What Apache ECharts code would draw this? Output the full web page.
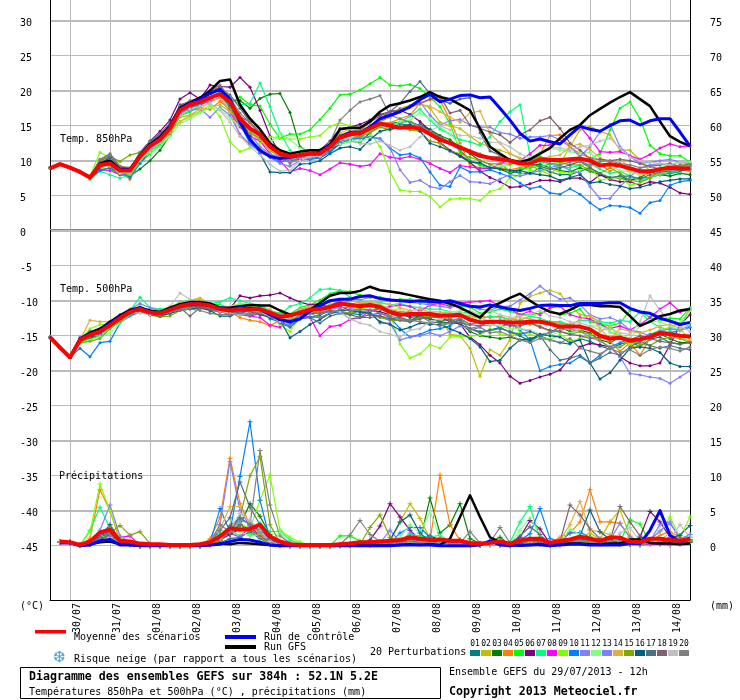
<!DOCTYPE html>
<html><head><meta charset="utf-8">
<style>html,body{margin:0;padding:0;background:#fff}#c{width:740px;height:700px}</style>
<script src="https://cdn.jsdelivr.net/npm/echarts@6/dist/echarts.min.js"></script>
</head><body><div id="c"></div>
<script>
const dayLabels=['30/07','31/07','01/08','02/08','03/08','04/08','05/08','06/08','07/08','08/08','09/08','10/08','11/08','12/08','13/08','14/08'];
const leftTicks=[30,25,20,15,10,5,0,-5,-10,-15,-20,-25,-30,-35,-40,-45];
const leftMajor=[30,20,10,0,-10,-20,-30,-40];
const rightTicks=[75,70,65,60,55,50,45,40,35,30,25,20,15,10,5,0];
const memberColors=['#008080','#c0c000','#008000','#ff8000','#00ff00','#800080','#00ff80','#ff00ff','#80ff00','#0080ff','#8080ff','#80ff80','#8080ff','#e0b040','#80a800','#006080','#507080','#806070','#c0c0c0','#808080'];
const memberIds=['01','02','03','04','05','06','07','08','09','10','11','12','13','14','15','16','17','18','19','20'];

// Temp 850 hPa
const meanA=[8.9,9.5,9,8.4,7.6,9.4,9.6,8.6,8.6,10.6,12.1,13,14.6, 17.2,18,18.4,19,19.5,18.4,16,14.6,13.7,12,11,10.6,10.8, 11,11,12,13.3,13.8,13.9,14.6,15.3,15,14.7,14.8,14.6,13.8, 13,12.5,11.9,11.3,10.7,10.4,10.2,10,9.6,9.6,10.2,10.1,10.1, 10.2,10.3,10,9.3,9.5,9.3,8.9,8.5,8.5,8.8,9,8.9,8.9];
const gfsA=[8.9,9.5,9,8.4,7.6,9.6,10,8.8,8.8,10.8,12.4,13.4,15, 17.6,18.3,19,20,21.4,21.6,18,16,14.5,12.5,11.5,11,11.3, 11.5,11.5,12.3,14.5,14.7,14.7,15.6,17,17.9,18.2,18.6,19.1,19.8, 19.1,18.8,18,17.2,14.6,12,11,10.1,9.8,10.2,11,11.8,13.2, 14.4,15.1,16.5,17.4,18.3,19.1,19.8,18.8,17.8,15.6,13.5,12.7,12.1];
const ctrlA=[8.9,9.5,9,8.4,7.6,9.3,9.7,8.7,8.7,10.7,12.2,13.2,14.8, 17.4,18.2,18.8,19.6,20.2,18.8,15.5,13,11.5,10.6,10.3,10.5,10.8, 11,11.2,12.2,13.4,14,14,14.8,16,16.5,17,17.7,18.7,19.5, 18.4,18.8,19.3,19.4,19,19.1,17.5,15.8,13.9,12.8,13.1,12.7,12.4, 13.7,14.9,14.5,14.2,15,15.7,15.8,15.1,15.7,16,16,14.1,12.1];
const a01=[9,9.5,9,8.4,7.7,9.5,10,8.8,8.6,10.4,12,13.2,14.8, 17.5,18,18.6,19.6,20,17.8,15.5,14,13,11.5,10.5,10,10.2, 10.2,10.6,11.5,12.5,13,13.4,14.5,15.2,15,15.3,15,15.2,14.5, 13.5,12.5,11.5,10,9.5,9,9,8.6,8.2,8.2,9,8.4,8, 8,8.5,9,8,7.5,7.8,7.3,7.5,7.6,8,8.2,8.4,9.5];
const a02=[9,9.5,9,8.4,7.6,9.2,9.8,8.4,8.5,10.4,11.7,12.8,14.6, 16.2,16.5,17,17.6,18,17,15.5,14.2,13,11.5,10.4,10.2,10.8, 11,11.4,12.6,13.8,14,13.6,14.6,16,16.4,17.5,17.9,18.2,17.5, 15.5,15,14.6,13.5,12.5,12,11.5,11,10.4,9.4,8.6,8,9.5, 12,14.4,14.9,14.2,13.7,11.5,11.5,10.1,8.5,8,8.8,9.5,9.5];
const a03=[8.9,9.5,9,8.4,7.5,8.6,9,8,7.8,8.8,10,11.5,13.6, 16.6,17.6,18.2,19,19.6,18.5,18.6,17.5,18.9,19.5,19.6,16.9,12, 11.2,11,11.5,12.4,12.8,12.6,14,15,15.3,15.5,15.6,15,14.4, 13.6,13,11.9,11,10,9.5,8.8,8.2,8.6,9.3,9.5,9,8.6, 8.4,9,8.5,8,7.6,7.5,7.2,7.6,8.4,8,7.8,8.2,8];
const a04=[9,9.5,9,8.4,7.6,10,10,8.4,7.3,10,12,13,14.6, 16.8,17.4,17.6,17.3,18.5,17.3,13.5,12.5,11.6,10.8,10.2,9.8,10, 10.4,10.8,12,13.5,14,14.2,15,15.5,15.4,16,16.5,18.2,18.7, 18.7,15.8,12.5,9.4,9,8.8,9,8.7,9,9.3,11,13.6,13.7, 12,11,10.4,9.5,8.5,9.3,8.5,8,8.4,8.6,9.6,8.8,8.5];
const a05=[9,9.5,9,8.4,7.7,9,8.8,8,8,9.6,11,12.2,14, 16.4,17,17.8,18.8,19.5,18.3,19.1,18,17.8,15.2,13.2,13.8,13.8, 14.4,15.9,17.5,19.4,19.5,20.1,21,21.9,20.8,20.7,20.9,20.3,19.1, 17.7,15.3,11.3,10,9.4,8.8,9.6,8.5,8.8,9,9.2,9.5,9.8, 10,10,10.3,11,14.4,17.5,18.4,16,12.2,11,10.7,10.7,9.8];
const a06=[9,9.5,9,8.5,7.7,9.6,10.3,9.2,8.8,11.2,12.8,14.2,15.8, 18.8,19.7,18.8,20.8,20.6,20.5,21.9,20.5,17.2,13.5,11,10.4,11, 11.4,11.5,12.8,14.6,14.8,15.2,15.8,16.6,17,17.2,16.6,15.6,14.3, 12.6,11.5,10.8,9.8,8.5,7.6,7,6.2,6.3,6.7,7.2,7.2,7, 7.5,7.5,6.9,8,7.3,7,7,6.5,7,6.8,6.2,5.4,5.2];
const a07=[9,9.5,9,8.3,7.3,8.5,8,7.5,8,9.8,11.3,12.4,14.4, 16.5,17.2,18,19,19.8,19,18,18.2,21.1,17.7,14,11.5,10.6, 10.8,11,11.8,12.8,13,13.6,14.2,15,14.6,15.5,16.4,17.4,15.8, 14.5,13.8,13,12.7,12.2,13.4,15.6,17,18,10.8,9.8,9.6,9,9, 9.3,9.6,8.8,8.2,8.5,7.8,7.2,7.6,8,8.4,8.4,9.4];
const a08=[9,9.5,9,8.4,7.6,8.7,8.6,8,8.4,10.2,11.8,13,14.4, 17,17.8,18,18.5,19,17,14.8,13.5,12.8,11,10,8.4,8.9, 8.6,8,8.8,9.7,9.5,9.2,9.4,11,10.5,10.3,10.6,10.2,9.6, 8.9,8.3,9.3,9.1,8.9,8.9,9.6,10.1,10,11,12.2,12.2,13.2, 14.4,14.9,13.2,11.3,11.2,11.3,10.7,10.2,10.9,11.8,12.4,12,12.1];
const a09=[9,9.5,9,8.5,7.8,11.2,10.4,9,8.2,9.8,11.5,12.6,14, 15.6,16.2,17,18,16.3,12.7,11.3,11.8,12.5,13.4,13.2,13.1,13.1, 13.4,13.6,14.9,15.4,15,14.5,14,12,8.4,5.8,5.6,5.6,4.9, 3.4,4.5,4.6,4.6,4.3,5.6,6,7.5,8,8.6,8.4,8.9,8.4, 8.2,8.6,9.2,7.2,7.5,7.6,6.5,6.8,7.5,8.5,8.6,9,9.8];
const a10=[9,9.5,9,8.3,7.5,8.6,9,8.4,7.6,9.6,11.4,12.8,14.2, 16.8,17.5,18,19,19.5,17.6,15.2,12.5,11.2,10.5,9.8,10.2,10.6, 10.2,10.4,11.2,12.4,13,13.2,13.4,13.1,11.8,10.8,11,10.4,8.4, 6.5,6.3,9.1,8.4,8.4,8.7,8.2,7.7,6.8,6,6.3,5.4,5.2, 6,5.2,4,3,3.6,3.5,3.3,2.5,4,4.3,6.5,7,7.2];
const a11=[9,9.5,9,8.4,7.6,9.2,9.4,8.3,8.2,10.2,11.8,12.8,14.2, 16.8,17.2,17.4,16.2,17.6,16.5,13.8,12.3,11.3,10.5,9.6,9.2,10, 10.4,10.8,11.6,12.8,13.2,13.4,13.4,13.2,11.8,8.7,6.9,7.2,6.3, 6,7,7.9,7,6.9,6.7,7.4,8,7.8,8.2,8.6,9,9.4, 8.6,8.2,6.3,4.6,4.6,6.3,7.7,8.9,9.4,9.6,9.2,9,8.8];
const a12=[9,9.5,9,8.4,7.6,9.8,9.4,8.2,8.4,10.2,11.2,12,13.5, 15.3,16,16.8,17.6,17.4,16,15,14.2,13.2,12.5,14,13,11.8, 11.4,11.6,12,12.4,12.8,12.8,13.2,14,14.8,15.6,15.8,16.8,16, 14.8,13.8,12.2,11.2,10.6,9.4,9.2,9.4,9.6,10.4,11.2,11.8,11.5, 11.3,11,11.2,9.8,9.2,8.6,8.4,8,8.6,9,9.5,9.8,9.7];
const a13=[9,9.5,9,8.4,7.6,9.5,10.2,8.8,8.7,10.8,12.5,13.8,15.2, 17.7,18.4,18.8,18.4,20,18.2,15.8,13.8,12,11,10.4,10,10.4, 10.8,11,12.2,13.2,13.8,14,14.6,15.6,16.2,17,17.8,18.4,16.5, 15.1,15.7,15.9,15.1,14.8,14.8,14,13.8,13.2,13.4,13.4,13.6,13, 12,10.6,12,14.1,15.2,12,10.6,9.6,9.8,10,10.2,9.8,9.6];
const a14=[9,9.5,9,8.4,7.6,9.4,9.2,8.5,8.2,10.3,11.6,12.6,14, 15.6,16.5,17.4,18.4,19,17,15.5,14,13,11.6,10.8,10.3,10.8, 11.4,11.6,12.4,14,14.5,14.4,15,15.8,16.2,17.2,17.6,18,17.8, 17,16.2,15.5,16.8,17.1,13.9,12.5,11,10.3,9.8,10.2,10.6,10.8, 12,12.4,11.6,10.4,9.8,10.2,9,8.4,7.8,8.2,8.8,9,9.2];
const a15=[9,9.5,9,8.5,7.8,10,10.6,9.9,10.8,11.2,12.6,13.2,14.3, 17,17.8,18.3,19,19.4,17.5,15,14,13.2,12.2,11.5,10.8,11, 11.4,11.2,12.2,13,13.6,13.4,14,14.8,14.4,14.8,14.4,14.2,12.8, 12.5,11.4,11,10.5,10,9.5,9.6,9.5,9.9,10,10.6,10.2,9.8, 9.4,9.4,8.6,8.2,9,8.2,7.2,7,7.5,8.6,9.5,9.2,9.1];
const a16=[9,9.5,9,8.4,7.7,9.6,10.5,9,8.7,10.8,12.6,13.6,14.9, 18,18.4,18.6,19.8,20.4,18.3,16,13.5,11,8.4,8.3,8.3,9.5, 9.6,10,11,11.8,12,11.6,13,14.2,14.5,14.8,15.2,14.2,12.5, 12,11.4,10.6,9.8,9.7,9,8.8,8.6,8.6,8.2,8,7.8,7.2, 7.6,8,6.8,7,6.6,6.4,6,6.2,6.6,7,7.2,7.4,7.4];
const a17=[9,9.5,9,8.4,7.6,10.2,11,9.2,8.8,11,12.8,13.8,15.4, 17.6,18.2,19,19.6,20.4,19.4,17.5,15.5,13.8,12.2,11,10.4,10.6, 11,10.4,11.6,12.8,13.6,13.8,15,16,17,18.2,19.9,21.3,19.6, 18.6,18.2,18.8,19,14,11.4,10.8,10,9.8,9.6,9.2,8.8,9, 9.4,9.9,9,8.2,7.6,7.8,7.8,7.4,8,8.4,8.5,8.6,8.8];
const a18=[9,9.5,9,8.4,7.7,10,10.6,9,8.6,10.9,12.5,13.5,15, 17.8,18.3,18.8,20,20.5,18.5,16.3,15.5,14,12.2,11,10.4,10.8, 11,11.3,12.4,13.6,14.2,14.4,15.5,16.4,17,17.3,17.7,18.2,18.8, 19.2,16.8,17.2,15.1,14.6,14.1,13.7,12.6,13.7,14.4,15.7,16.2,14.6, 12.5,11.5,10.3,10.2,10,10.2,10,9.6,9.2,9.4,9.6,9.2,9.6];
const a19=[9,9.5,9,8.4,7.6,9.3,9.6,8.5,8.4,10.3,11.6,12.6,14.4, 16.5,17.4,17.8,18.2,17.2,15.5,13.5,12,10.8,9.5,8.5,8.6,10, 10.6,10.6,11.8,13,13.2,12.4,12.4,12.8,12.2,11.5,12,13.4,14.2, 15,14.4,13.6,13.6,13.2,12.6,12.6,12,11,10.4,11,12,11.8, 11.5,12,12.2,12.8,13.2,11.8,10.5,10,9.8,9.6,9.4,9.8,9.8];
const a20=[9,9.5,9,8.4,7.7,10.2,10.8,9.2,9,11,12.6,13.6,15.2, 17.8,18.6,19,20,20.8,19,16.8,15.4,13.8,12.4,10.8,9.6,10.6, 11,11.5,12.6,15.8,17.2,18.4,18.8,19.3,16.5,16,15.5,15,14.2, 13.4,12.6,12,11.5,11,10.5,10.6,10.2,9.7,10.1,10,9.6,9.4, 9.8,10,9.3,9.9,10,9.6,9.4,9,9.2,8.8,8.6,9.4,9.2];

// Temp 500 hPa
const meanB=[-15.2,-16.7,-18.1,-15.6,-14.9,-14.4,-13.5,-12.5,-11.6,-11.2,-11.7,-11.8,-11.3, -10.8,-10.5,-10.5,-10.7,-11.2,-11.4,-11.2,-11.3,-11.2,-11.7,-12.3,-12.1,-11.7, -11.3,-11.2,-10.9,-10.4,-10.6,-10.8,-10.6,-10.9,-11.6,-12,-11.9,-11.9,-11.9, -12.1,-12.1,-12,-12.7,-13.1,-13,-13,-13.1,-13.1,-13,-13,-13.3,-13.7, -13.7,-13.7,-14.1,-15,-15.4,-15.3,-15.7,-15.5,-15.2,-14.6,-14.8,-15,-15.1];
const gfsB=[-15.2,-16.7,-18.1,-15.4,-14.6,-14,-13,-12.1,-11.3,-11,-11.4,-11.6,-11,-10.5,-10.2,-10.2,-10.4,-11,-11,-10.8,-10.6,-10.7,-10.7,-11.4,-12,-11.8, -11.3,-10.3,-9.3,-8.9,-8.9,-8.6,-8,-8.5,-8.7,-8.9,-9.2,-9.5,-9.8, -10,-10.4,-11,-11.7,-12.4,-11,-10.3,-9.6,-9,-10,-10.9,-11.6,-11.9, -11.3,-10.6,-10.6,-10.8,-10.8,-10.9,-12.2,-13.6,-13,-12.2,-11.9,-11.4,-11.2];
const ctrlB=[-15.2,-16.7,-18.1,-15.5,-14.8,-14.3,-13.2,-12.3,-11.5,-11,-11.6,-11.8,-11.2,-10.7,-10.4,-10.4,-10.7,-11,-11.2,-11,-11.1,-11.2,-12,-12.7,-13,-12.6, -11.5,-10.7,-10,-9.8,-9.8,-9.4,-9.3,-9.7,-9.9,-10,-10.1,-10,-10.1, -10.2,-10,-10.4,-10.8,-10.9,-10.6,-10.9,-11.2,-11.4,-11.1,-10.7,-10.6,-10.7, -10.7,-10.4,-10.4,-10.4,-10.3,-10.3,-11.1,-11.6,-11.8,-12.5,-12.9,-13.4,-13.1];
const b01=[-15.2,-16.7,-18,-15.8,-15.2,-14.8,-13.6,-12.3,-11.5,-11.2,-11.6,-11.8,-11.4,-10.9,-10.8,-10.9,-11,-11.5,-11.9,-11.6,-11.4,-11.8,-11.8,-12.8,-13,-12.2, -12.4,-12,-11.5,-11.6,-11.8,-12,-11.4,-11.2,-11.8,-12.4,-12.8,-12.2,-12.6, -13,-12.5,-13.4,-14,-14.4,-14.2,-13.8,-14.5,-15,-15.8,-15,-15.6,-16, -16.2,-15.4,-15.8,-16.5,-16.9,-16.2,-15.8,-16.6,-15.5,-15.2,-16,-16.2,-15.8];
const b02=[-15.2,-16.7,-18,-15.4,-15,-14.6,-13.4,-12.2,-11.5,-11,-11.8,-12.2,-11.6,-10.8,-10,-9.6,-10.4,-11.2,-11.5,-11.4,-10.8,-11.4,-12.4,-12.6,-12.8,-11.7, -11.2,-10.6,-10.8,-10.1,-10.8,-10.4,-10.8,-11.2,-11.5,-12,-12.2,-11.8,-12, -12.4,-14.8,-15,-16.8,-20.8,-17,-17.8,-15.6,-10.4,-9.4,-8.9,-8.5,-9, -10.8,-12,-12.2,-13,-14.5,-15,-16.6,-16.5,-15,-14.2,-14.6,-15.2,-15.8];
const b03=[-15.2,-16.7,-18.1,-15.9,-15.4,-14.8,-13.8,-12.8,-12,-11.5,-12,-12.2,-11.6,-11,-10.8,-10.8,-10.9,-11.4,-11.5,-11.2,-11.4,-11.2,-11.6,-12.4,-12.6,-12, -11.6,-11,-10.6,-10.2,-10.4,-10.6,-10.8,-11.2,-11.4,-11.8,-12.4,-12.2,-12.6, -13,-13.2,-13.2,-14.4,-15,-15.2,-15.4,-15.2,-15.6,-15.4,-15,-14.5,-13.8, -14.4,-14.2,-14.6,-15.6,-16,-15.2,-15.4,-15.8,-15,-14.8,-15.4,-16,-16];
const b04=[-15.2,-16.7,-18,-15.4,-14.4,-14.6,-13.4,-12.6,-11.6,-11.2,-11.8,-11.6,-11.2,-10.4,-10.2,-10.2,-10.8,-11.3,-11.6,-12.4,-12.8,-13,-13.6,-12.8,-12.4,-12, -11.6,-11.4,-11.2,-10.4,-10,-10.3,-10.6,-10.5,-11.2,-11.6,-11.5,-12,-11.9, -12.3,-12.4,-12.2,-12.8,-12.2,-12.4,-12.2,-12.8,-13.4,-13.4,-12.8,-13,-13.2, -13.5,-13.6,-14,-15.2,-15.8,-17.2,-16,-17.8,-15.4,-14.8,-14.4,-15,-15.4];
const b05=[-15.2,-16.7,-18.1,-15.8,-15.5,-15,-13.6,-12.4,-11.4,-11,-11.4,-11.8,-11,-10.4,-10.2,-10.2,-10.4,-10.6,-11,-10.4,-10.6,-10.8,-11.4,-11.8,-11.9,-11, -10.6,-9.9,-9,-8.6,-8.7,-9.2,-9.5,-9.5,-10,-9.8,-9.8,-10.2,-10.4, -10.2,-10.6,-10.8,-10.9,-11.8,-11.6,-11.2,-11.5,-12,-12,-11.8,-11.4,-12, -11.8,-11.2,-13,-13.3,-13.6,-13.2,-11.4,-11.5,-12.4,-12.8,-12.5,-12.6,-11];
const b06=[-15.2,-16.7,-18.1,-15.6,-15.2,-14.8,-13.7,-12.6,-11.6,-11.2,-12,-12,-11.2,-10.6,-10,-10.2,-10.6,-11,-11.1,-9.3,-9.6,-9.3,-9.2,-8.9,-9.6,-10.2, -10.6,-10.4,-11,-10.8,-11.4,-11.6,-11.4,-11.6,-12,-12,-12.2,-12,-11.8, -12.4,-13,-13.3,-15.2,-16.3,-17.8,-18.9,-20.8,-21.8,-21.4,-20.9,-20.5,-19.9, -18.2,-16.6,-16.1,-16.3,-16.6,-18,-18.9,-19.3,-19.3,-18.9,-16.3,-13.5,-12];
const b07=[-15.2,-16.7,-18,-15.7,-15,-15,-13.8,-12.5,-11.4,-9.5,-11,-11.2,-11,-10.2,-10,-10.4,-10.4,-10.2,-9.6,-10,-10.4,-10.6,-11.4,-12,-10.8,-10.4, -9.6,-8.4,-8.3,-8.5,-9.5,-10,-10.4,-10.2,-10.6,-10.4,-10.8,-11,-11.2, -11.2,-11.6,-11.6,-11.8,-12.6,-12.2,-12.4,-12.6,-12.8,-12.2,-12.5,-13,-13, -13.4,-12.8,-12.8,-13,-13.2,-12.8,-13,-11.6,-13,-13.8,-14.2,-14,-11];
const b08=[-15.2,-16.7,-18.1,-15.6,-15,-14.4,-13.4,-12.3,-11.4,-11,-11.6,-11.8,-11.2,-10.6,-10.2,-10.4,-10.6,-11,-11.2,-11.4,-12.2,-12.4,-13.5,-13.8,-12,-11.8, -12.4,-15,-13.7,-13.5,-12.7,-12.4,-11.5,-11.2,-10.8,-10.6,-10.8,-11.5,-10.6, -10.4,-10.8,-10.3,-10.2,-10.1,-10,-10.8,-11.2,-12,-11.5,-12,-11,-10.8, -12,-12.4,-12.6,-13.4,-14,-13.6,-14.2,-13.4,-12.4,-11.2,-10.3,-11.6,-11.3];
const b09=[-15.2,-16.7,-18,-15.8,-14,-13.4,-13.4,-12.4,-11.6,-10.6,-11.8,-11.8,-10.8,-10.4,-10,-10.2,-10.6,-10.8,-11.2,-11,-11,-11.4,-12,-13.4,-14.4,-12.4, -11.2,-11,-10.6,-10.5,-10.9,-11.2,-10.9,-11.1,-11.9,-16.2,-18.2,-17.6,-16.3, -16.8,-15.2,-15.1,-15.1,-14.9,-14,-14.8,-15,-14.5,-14.8,-15.2,-15.6,-14.8, -15.8,-15.4,-15,-14.4,-13.6,-15.4,-16.2,-15.8,-14.8,-14.2,-13.8,-13.2,-11.4];
const b10=[-15.2,-16.7,-18,-16.8,-18,-16,-15.8,-13.2,-12.2,-11.6,-11.8,-12,-11.8,-11.2,-10.6,-10.8,-11.3,-11.6,-11.8,-11.6,-12,-11.4,-12.6,-13,-13.6,-12.6, -12.3,-12.4,-11.8,-11.6,-12,-11.4,-12,-11.8,-12.4,-14,-15.2,-14.8,-14.2, -14,-13.6,-12.5,-13.4,-13,-13.2,-13.8,-13.2,-14.2,-15.6,-20,-19.4,-19.1, -18.9,-18,-18.9,-17.8,-16.6,-16,-15.4,-15.6,-14.8,-14.4,-14.6,-14.2,-13.8];
const b11=[-15.2,-16.7,-18.1,-15.2,-14.6,-14.8,-13.6,-12.8,-12,-11.3,-12,-12,-11.6,-11.2,-11,-10.8,-11,-11.6,-11.8,-11.6,-12,-11.8,-12.2,-12.6,-13.4,-12.4, -11.6,-11.8,-11.2,-11,-11,-11.5,-11.6,-13.2,-13.2,-15.6,-15.2,-15,-14.6, -15,-14.4,-13.6,-14,-13.6,-13.5,-12.8,-13.4,-14,-14.4,-14.8,-14.6,-14.2, -14,-14.4,-15.2,-15.8,-16.6,-18,-20.4,-20.6,-20.9,-21.1,-21.8,-20.9,-20];
const b12=[-15.2,-16.7,-18.1,-16.2,-15.6,-15.2,-14.6,-13.2,-12,-11,-11.4,-11.6,-11.2,-10.6,-10.4,-10.4,-10.4,-10.8,-10.8,-10.4,-10.5,-11,-11.8,-12.2,-12.8,-11.8, -11,-11,-10.8,-10.4,-10.4,-10.8,-10.6,-10.6,-11.2,-11.2,-11.8,-11.6,-11.8, -12,-11.6,-11.5,-12.2,-13,-13.4,-13.6,-14,-14,-14.2,-14.8,-15,-14.4, -14.6,-14.2,-13.6,-13.6,-14.4,-14.8,-15.4,-13.6,-13,-13,-13.6,-14.4,-13.2];
const b13=[-15.2,-16.7,-18,-15.2,-14.8,-14.4,-13.2,-12,-11.2,-10.4,-11,-11.4,-11.2,-10.6,-10.4,-10.6,-10.6,-11,-11.4,-11.2,-11.2,-11.2,-11.4,-12,-12.2,-11.4, -10.9,-10.8,-10.8,-9.8,-9.6,-9.9,-9.5,-9.6,-9.8,-10,-10.2,-10.4,-10.6, -10.8,-11,-10.6,-10.8,-11.2,-11.4,-10.8,-10.8,-9.9,-9,-7.9,-9,-9.8, -9.6,-10.6,-12,-12.6,-12.4,-13,-14.2,-14.5,-15,-14.4,-14,-14.2,-13.6];
const b14=[-15.2,-16.7,-18,-15.6,-12.8,-13,-13,-12.2,-11.2,-11,-11.6,-11.8,-11,-10.4,-10,-9.8,-10.6,-11,-11.2,-11,-11,-11.4,-11.2,-12.4,-12,-11.2, -10.8,-10.6,-10.2,-9.9,-10,-10.2,-10.2,-10.4,-10.5,-11,-11.4,-11.2,-11.6, -11.6,-11.8,-12.2,-12.2,-12.4,-13,-12.8,-12.6,-12.4,-12.6,-13,-13.2,-13.6, -13.8,-12.6,-12,-14,-15.5,-14,-14.4,-14.6,-14.2,-13.6,-13.4,-14,-15.6];
const b15=[-15.2,-16.7,-18.1,-16,-15.8,-15.4,-14,-13,-12,-11.5,-12,-12.3,-12.2,-11.4,-11,-11.1,-11.4,-11.6,-11.8,-11.4,-11.6,-11.4,-12,-12.4,-12.2,-11.9, -11.8,-11.6,-11.5,-11.5,-11.8,-11.4,-12,-12.4,-12.8,-12.8,-13,-12.4,-12.2, -12.3,-12.8,-12.6,-13.4,-13,-13,-13.1,-13.2,-12.9,-13.2,-13.6,-14.4,-14.4, -14.8,-14.4,-14.8,-15.6,-16.8,-16.6,-15.8,-16.2,-16.4,-15.6,-15.2,-15.4,-16];
const b16=[-15.2,-16.7,-18.1,-15.8,-15.2,-14.5,-13.2,-12.4,-11.8,-11.4,-12,-12.2,-11.8,-11.4,-11.2,-11,-11.4,-12.2,-12.2,-11.6,-11.6,-12,-12.4,-12.8,-15.3,-14.4, -13.4,-12.7,-11.8,-11.4,-11.4,-11.6,-11.8,-13,-13.4,-14.2,-13.8,-13.2,-13.4, -13.4,-14,-14.6,-15.4,-16.6,-18.7,-18.5,-16.8,-15.6,-15.6,-14.8,-15,-15.2, -16,-15.6,-18.9,-21.2,-20.3,-18.5,-16.8,-16.6,-16.8,-17.4,-18.9,-19.4,-19.4];
const b17=[-15.2,-16.7,-18,-15.4,-14.4,-14,-13,-12.2,-11.6,-11.2,-11.8,-12,-11.4,-11,-10.8,-10.8,-11.2,-11.4,-11.8,-11.4,-11.6,-11.8,-12,-13.2,-13.8,-12.6, -12.4,-13.2,-12.2,-11.8,-12,-12.4,-12,-12.2,-12.6,-12.4,-13,-12.2,-13, -13.2,-13.2,-12.8,-14,-14.6,-14.2,-14,-14.4,-14.8,-14.4,-15,-17,-18.5, -18.2,-17.8,-18.9,-18.2,-17.4,-17.8,-16.6,-15.8,-16.4,-16.8,-16.4,-16.8,-17];
const b18=[-15.2,-16.7,-18,-15.6,-15,-14.2,-13,-12,-11.5,-11.4,-12,-12.1,-11.6,-11,-12.2,-11,-11.1,-11.6,-11.8,-12,-12.2,-11.8,-12,-12.6,-13.2,-12, -11.8,-11.8,-11.4,-11.6,-12.6,-12.4,-12.4,-12.2,-12.6,-12.8,-13,-12.6,-12.4, -12.4,-12.8,-13.2,-13.4,-13.6,-13,-13.2,-13.6,-13.6,-13.2,-13.8,-14.2,-14.4, -14.8,-15,-15.4,-15.2,-15.6,-15.2,-15.6,-15,-15.4,-15.8,-16,-16.2,-16];
const b19=[-15.2,-16.7,-18,-15.6,-14.8,-14,-13,-12.4,-11.6,-11.8,-12,-11.6,-10.8,-8.9,-9.8,-10.4,-10.8,-11.5,-11.8,-12,-11.5,-11.6,-12.2,-13,-12.4,-11.6, -11.6,-11.2,-11,-11.6,-12.6,-13.2,-13.5,-14.4,-14.8,-15.2,-14.2,-14,-13, -12.6,-12.2,-11.4,-11.4,-12,-11.4,-12,-12.4,-12.2,-12,-11.4,-12.2,-12.4, -13,-13.2,-13.6,-14.2,-14,-14.6,-14.8,-13,-9.3,-11.4,-13,-13.6,-14.4];
const b20=[-15.2,-16.7,-18.1,-15.8,-15.2,-14.2,-13,-12.2,-11.4,-11.2,-11.6,-12,-11.6,-11.4,-11.2,-11.4,-11.8,-12,-12,-11.8,-12,-11.6,-12,-12.6,-12.8,-12.2, -11.8,-12.4,-11.8,-11.2,-11.4,-11.2,-11.3,-11.8,-12.2,-12.6,-12.8,-13,-13.2, -13.6,-13.2,-12.4,-14.2,-13.8,-14.6,-14.4,-15,-15.6,-16,-15.4,-15.6,-16, -15.4,-16.8,-17.2,-17.6,-16.8,-17.4,-17,-17.8,-17,-16.6,-16.8,-17.2,-16.6];

// Precipitations (mm)
const meanC=[null,.6,.5,.1,.6,1.9,2.3,.7,.6,.3,.2,.2,.1, .1,.1,.2,.5,1.3,2.5,2.3,2.4,3,1.3,.6,.2,.1, .1,.1,.1,.2,.3,.5,.5,.6,.7,.8,1.2,1,.8, .9,.7,.7,.4,.3,.4,.6,.3,.7,1,1,.4,.7,.9, 1.3,1,.7,1.2,1.1,.6,.5,1,1,.8,.7,1];
const gfsC=[null,.5,.5,.1,.2,.5,.6,.2,.1,0,0,0,0, 0,0,0,.1,.3,.2,.4,.3,.2,.1,0,0,0, 0,0,0,0,0,.1,.1,.1,.1,.1,.2,.1,.2, .1,1,4.1,7.2,4.1,1.2,.5,.2,0,.1,.1,0,.2,.3, .3,.2,.2,.3,.3,.9,.9,.4,.3,.3,.2,.3];
const ctrlC=[null,.4,.4,0,.1,.7,.9,.1,.1,0,0,0,0, 0,0,0,.1,.2,.6,.9,.8,.5,.1,0,0,0, 0,0,0,0,0,0,0,0,0,.1,.1,.1,.1, 0,0,0,0,.1,.7,.1,0,.1,.1,.2,0,.1,.2, .2,.1,.1,.1,.1,.3,.3,2.2,5,1.5,.5,1];
const c01=[null,.5,.5,.1,.3,1,1.5,.3,.2,0,0,0,0, 0,0,0,.1,.4,1,1.2,2,1,.3,.1,0,0, 0,0,0,0,.2,.2,.1,.3,.4,.3,.5,.4,.3, .6,.3,.4,.1,.1,.2,.3,0,.2,.8,1,.1,.3,.5, 1,.8,.4,.8,.5,.2,.2,.4,.6,.4,.6,.5];
const c02=[null,.5,.4,.1,.2,1.4,2,.4,.2,0,0,0,0, 0,0,0,.2,1.3,1.6,3,2.4,1.2,.4,.1,0,0, 0,0,0,.1,.2,.2,.2,.3,.5,3.4,6,3.9,1,.8,.5,.2,.2,.1,.1,.2,.1,.4,.6,.6,.2,.3,.7, 1,1.8,.9,3.4,5.1,1.4,.4,.6,.7,.6,.4,.8];
const c03=[null,.5,.5,.1,.4,1.2,2.5,.6,.3,0,0,0,0, 0,0,.1,.3,1,1.8,3,6,4.2,1.6,.5,.3,.2, 0,0,0,.1,.2,.3,.2,.4,.4,.7,1.1,.7,6.8,1.8,3,6,1,.3,.5,1.2,.1,.5,1,.8,.2,.4,.6, .8,1.2,.5,.8,.6,.4,.3,.6,.5,.4,.3,.5];
const c04=[null,.5,.5,.1,1,8,5,.6,.3,0,0,0,0, 0,0,0,1,4,12.5,6,3,1.4,.3,.1,0,0, 0,0,0,.1,.3,.4,.5,.6,.8,.6,1.3,.6,.7,10.1,3,.8,.4,.1,.3,.5,.2,.3,.6,.4,.3,1.2,1.8, 3.4,8,3.4,3.4,3.2,1.2,.5,.6,1.5,2,1.2,.8];
const c05=[null,.5,.4,0,.2,1.2,1.6,.3,.1,0,0,0,0, 0,0,0,.2,1,2.2,3.2,1.5,2.4,.9,.2,.1,0, 0,0,0,1.4,1.4,.7,.6,.4,.3,.4,.8,.3,.5,.6,.5,.9,.3,.2,.4,.3,.2,.8,.6,.3,.1,.3,.4, .6,1.2,.4,.7,.5,3.7,3.1,.4,.6,.5,.7,1.6];
const c06=[null,.5,.4,.1,.2,.8,1.8,.4,.2,0,0,0,0, 0,0,0,.4,.8,1.6,2.4,2.6,1.6,.4,.1,0,0, 0,0,0,.1,.1,.2,.8,2.8,6,4.1,2.2,.8,1.4,.8,.6,.4,.3,.1,.2,.1,.2,1.2,3.6,2.4,.3,.4,.5, .7,.6,.4,.7,.5,.3,1.2,4.9,3.4,1.2,.5,.9];
const c07=[null,.5,.5,.1,2.2,5.5,2.5,.6,.2,0,0,0,0, 0,0,.1,.5,1.6,2.2,1.4,2.6,3.2,2,2.1,.8,.3, .1,0,0,0,.1,.2,.2,.4,.5,.4,1.6,1.4,1.2,1.5,.6,.3,.2,.1,.2,.4,.5,3.4,5.6,1,.2,.3,.5, .7,.9,.5,.6,.4,.3,.4,.6,.5,.7,.6,.9];
const c08=[null,.5,.4,.1,.2,1,1.4,1.2,1.4,0,0,0,0, 0,0,0,.2,.8,1.8,1.2,2.8,2.2,.9,.2,0,0, 0,0,0,.1,.1,.2,.1,.3,.2,.2,.5,.3,.4,.7,.5,.8,.2,.1,.2,.1,.1,.3,.4,.2,.1,.1,.3, .3,.3,.2,.4,.2,.2,.1,.2,.2,.1,.2,.9];
const c09=[null,.5,.5,.1,2,8.8,5,1.2,.4,0,0,0,0, 0,0,0,.2,.8,2,3.2,2.4,6.5,10.1,2.2,1.2,.5, .1,0,0,0,.1,.2,.1,.2,.3,.2,.4,.3,.2,.4,.3,.2,.1,.1,.2,.2,.2,.6,1,.4,.2,.7,.6, .6,.7,.4,.8,.6,.5,.3,.9,2,4.1,1.2,4.1];
const c10=[null,.5,.4,.1,.2,1.2,1.8,.9,.4,0,0,0,0, 0,0,0,.4,5.3,2,9.9,17.7,6.5,.8,.2,0,0, 0,0,0,.1,.2,.2,.3,.5,.4,1.8,2.6,2.6,1.2,.5,.4,.5,.3,.2,.4,.1,.2,.8,1.7,5.3,1,.6,1.8, 1.9,1.2,.5,.8,.4,.2,.4,.7,.6,.8,.5,1.2];
const c11=[null,.6,.6,.1,.4,2.2,5.8,1.4,.5,0,0,0,0, 0,0,0,.6,3,12,5,2.8,1.8,.5,.1,0,0, 0,0,0,.1,.2,.3,.2,.4,2.2,.6,1.8,.8,.6,.8,.4,.3,.3,.1,.3,.2,.1,.5,1,.5,.2,.3,.6, .8,.5,.3,.5,.7,.4,.2,.9,2.1,3.2,1,1.6];
const c12=[null,.5,.4,.1,.4,1.4,1.2,.6,.2,0,0,0,0, 0,0,0,.3,1.8,2.6,2,1.4,1.6,.8,1.8,.4,.1, 0,0,0,.1,.1,.2,.2,.4,.8,1.2,3,1.8,4.9,1.2,.6,.4,.2,.1,.2,.3,.2,2.2,4,1.4,.3,.4,2.4, 1.6,1,.6,.5,.4,.3,.2,.4,.5,.3,.6,.7];
const c13=[null,.5,.5,.1,.3,1.5,2,.5,.3,0,0,0,0, 0,0,0,.3,1.2,2.2,3.6,3.2,1.8,.6,.1,0,0, 0,0,0,0,.1,.1,.2,.3,.5,.4,.9,.5,.4,.5,.3,.3,.2,.1,.1,.2,.1,.3,.4,.3,.1,.2,.4, .6,.5,.3,.8,3.2,1.2,.4,.7,3,3.4,.9,.8];
const c14=[null,.5,.4,.1,.4,1.8,2.8,.5,.2,0,0,0,0, 0,0,0,.5,2.4,5.6,5.6,3,1.6,.3,.1,0,0, 0,0,0,.1,.1,.2,.3,.2,.4,.3,.7,.5,.6,.5,.4,.2,.5,.1,.1,.2,.1,.4,.5,.4,.1,.8,3,6.3,2.2,2,1.6,1.2,.5,.3,.5,.8,1.8,.8,.6];
const c15=[null,.5,.4,.1,.3,.8,1.8,2.9,1.5,2,.3,0,0, 0,0,0,.2,.7,2.4,4,10,12.7,3,.4,.1,0, 0,0,0,.1,.1,.2,2.6,4.4,1.2,.3,.7,.4,.3,.5,.3,.2,.1,.1,.3,.2,.1,.3,.5,.3,.1,.2,.4, .5,.4,.3,.6,.4,.2,.1,.4,.5,.8,1.2,.7];
const c16=[null,.5,.5,.1,.4,1.2,3,.8,.3,0,0,0,0, 0,0,0,.5,1.5,2.8,4,3,2.2,1,.3,.1,0, 0,0,0,.1,.1,.2,.2,.4,.8,3.4,4.4,1.8,.6,.7,.5,.4,.2,.1,.3,.4,.2,.5,.9,.6,.2,.5,.6, 1.4,5.1,2,.9,1.3,.4,.3,.5,.4,1,1.5,2.9];
const c17=[null,.5,.4,.1,.4,1.1,2.2,.6,.3,0,0,0,0, 0,0,0,.4,2.2,4,9.1,5.5,3,1.1,.3,.1,0, 0,0,0,.1,.2,.3,.2,.3,.4,.5,1,.7,.8,1,.5,.4,.5,.1,.3,.2,.3,1.4,2.7,1.6,.2,.4,.7, .9,.8,.5,.7,.5,.3,.2,.4,.5,.4,.5,.6];
const c18=[null,.5,.4,.1,.3,.9,1.6,.4,.2,0,0,0,0, 0,0,0,.2,.7,2,3,2.2,1.4,.5,.1,0,0, 0,0,0,.1,.2,.3,.2,.3,.5,.4,.8,.4,.3,.5,.3,.4,.3,.1,.2,.4,.2,.3,.6,.5,.4,.6,5.8, 4.4,2.4,1,.7,5.6,3.4,1.4,.5,.6,.9,.7,.6];
const c19=[null,.5,.4,.1,.2,.7,1.2,.3,.2,0,0,0,0, 0,0,0,.3,1,2.4,4.6,3.6,2.2,.6,.2,0,0, 0,0,0,.1,.1,.2,.1,.3,.2,.3,.4,.3,.5,.4,.3,.2,.1,.1,.2,.1,.1,.3,.4,.2,.1,.1,.3, .3,.4,.3,.5,1.8,2.6,.6,.4,.7,.9,3,1.2];
const c20=[null,.5,.5,.1,.3,.9,1.4,.4,.2,0,0,0,0, 0,0,0,.3,3,2,4,3,13.6,5.8,1.4,.4,.1, 0,0,0,.2,1.5,3.6,1.6,.6,.5,.4,.6,.4,.5,.4,.3,.4,2,.4,.5,2.6,.4,.3,.6,.4,.2,.3,.6, .7,.5,.4,.5,.4,.3,.2,.4,.3,.5,.4,.6];

const membersA=[a01,a02,a03,a04,a05,a06,a07,a08,a09,a10,a11,a12,a13,a14,a15,a16,a17,a18,a19,a20];
const membersB=[b01,b02,b03,b04,b05,b06,b07,b08,b09,b10,b11,b12,b13,b14,b15,b16,b17,b18,b19,b20];
const membersC=[c01,c02,c03,c04,c05,c06,c07,c08,c09,c10,c11,c12,c13,c14,c15,c16,c17,c18,c19,c20];

const categories=[];
for(let i=0;i<65;i++){categories.push((i-2)%4===0&&i>=2?dayLabels[(i-2)/4]:'');}

const mono='"DejaVu Sans Mono"';
const lAxisMin=-52.76,lAxisMax=32.96;
const series=[];
const plus='path://M4 0H6V4H10V6H6V10H4V6H0V4H4Z';
function addMembers(list,axis,name,sym,size){
  list.forEach((d,k)=>series.push({name:name+memberIds[k],type:'line',data:d,yAxisIndex:axis,showSymbol:true,symbol:sym,symbolSize:size,
    lineStyle:{width:1.2,color:memberColors[k]},itemStyle:{color:memberColors[k]},z:2,silent:true,connectNulls:false}));
}
function addMain(d,axis,color,w,z){
  series.push({type:'line',data:d,yAxisIndex:axis,showSymbol:false,symbol:'none',lineStyle:{width:w,color:color,join:'round'},z:z,silent:true});
}
addMembers(membersA,0,'850-','circle',3);
addMembers(membersB,0,'500-','circle',3);
addMembers(membersC,2,'rr-',plus,5);
[[gfsA,0],[gfsB,0],[gfsC,2]].forEach(a=>addMain(a[0],a[1],'#000',2.5,3));
[[ctrlA,0],[ctrlB,0],[ctrlC,2]].forEach(a=>addMain(a[0],a[1],'#0000ff',3,4));
[[meanA,0],[meanB,0],[meanC,2]].forEach(a=>addMain(a[0],a[1],'#ff0000',4,5));
series[0].markLine={silent:true,symbol:'none',animation:false,label:{show:false},lineStyle:{color:'#888',width:1,type:'solid'},data:[{yAxis:0.2}]};

function T(x,y,text,opt){opt=opt||{};return {type:'text',z:20,x:x,y:y,silent:true,style:{text:text,fill:opt.fill||'#000',font:(opt.bold?'bold ':'')+(opt.size||10)+'px '+(opt.family||mono),textVerticalAlign:'middle',textAlign:opt.align||'left'}};}
function R(x,y,w,h,fill,stroke){return {type:'rect',z:19,silent:true,shape:{x:x,y:y,width:w,height:h},style:{fill:fill,stroke:stroke||null,lineWidth:1}};}
const graphics=[
 T(60,139,'Temp. 850hPa'),T(60,289,'Temp. 500hPa'),T(59,476,'Précipitations'),
 T(20,606,'(°C)'),T(710,606,'(mm)'),
 R(35,630,31,3.5,'#ff0000'),T(74,637,'Moyenne des scénarios'),
 R(225,635,31,4,'#0000ff'),T(264,637,'Run de contrôle'),
 R(225,645,31,4,'#000000'),T(264,647,'Run GFS'),
 T(53,658,'❆',{fill:'#4fa3e3',size:15,bold:true,family:'"DejaVu Sans"'}),
 T(74,659,'Risque neige (par rapport a tous les scénarios)'),
 T(370,652,'20 Perturbations'),
 R(20.5,667.5,420,31,'none','#000'),
 T(29,677,'Diagramme des ensembles GEFS sur 384h : 52.1N 5.2E',{bold:true,size:11.6}),
 T(29,692,'Températures 850hPa et 500hPa (°C) , précipitations (mm)'),
 T(449,672,'Ensemble GEFS du 29/07/2013 - 12h'),
 T(449,692,'Copyright 2013 Meteociel.fr',{bold:true,size:11.6})
];
memberColors.forEach((c,k)=>{
  const x=470+k*11;
  graphics.push(R(x,650,10,6,c));
  graphics.push(T(x+5,644,memberIds[k],{size:8,align:'center'}));
});

const chart=echarts.init(document.getElementById('c'),null,{renderer:'canvas'});
chart.setOption({
 animation:false,backgroundColor:'#fff',
 grid:{left:50,right:50,top:0,bottom:100,containLabel:false},
 xAxis:{type:'category',boundaryGap:false,data:categories,
   axisLine:{show:true,onZero:false,lineStyle:{color:'#000',width:1}},axisTick:{show:false},
   axisLabel:{rotate:90,margin:3,verticalAlign:'top',padding:[2,0,0,0],fontFamily:mono,fontSize:10,color:'#000',interval:(i)=>(i-2)%4===0&&i>=2,hideOverlap:false},
   splitLine:{show:true,interval:(i)=>(i-2)%4===0&&i>=2,lineStyle:{color:'#bbb',width:1}}},
 yAxis:[
  {type:'value',position:'left',min:lAxisMin,max:lAxisMax,
   axisLine:{show:true,onZero:false,lineStyle:{color:'#000',width:1}},
   axisTick:{show:false,customValues:leftTicks},
   axisLabel:{customValues:leftTicks,fontFamily:mono,fontSize:10,color:'#000',margin:30,align:'left',verticalAlign:'top',lineHeight:5},
   splitLine:{show:true,lineStyle:{color:'#bbb',width:1}}},
  {type:'value',position:'left',min:lAxisMin,max:lAxisMax,
   axisLine:{show:false},axisTick:{show:false,customValues:leftMajor},axisLabel:{show:false},
   splitLine:{show:true,lineStyle:{color:'#bbb',width:2}}},
  {type:'value',position:'right',min:lAxisMin+45,max:lAxisMax+45,
   axisLine:{show:true,onZero:false,lineStyle:{color:'#000',width:1}},
   axisTick:{show:false,customValues:rightTicks},
   axisLabel:{customValues:rightTicks,fontFamily:mono,fontSize:10,color:'#000',margin:20,align:'left',verticalAlign:'top',lineHeight:5},
   splitLine:{show:false}}
 ],
 series:series,graphic:graphics
});
</script></body></html>
